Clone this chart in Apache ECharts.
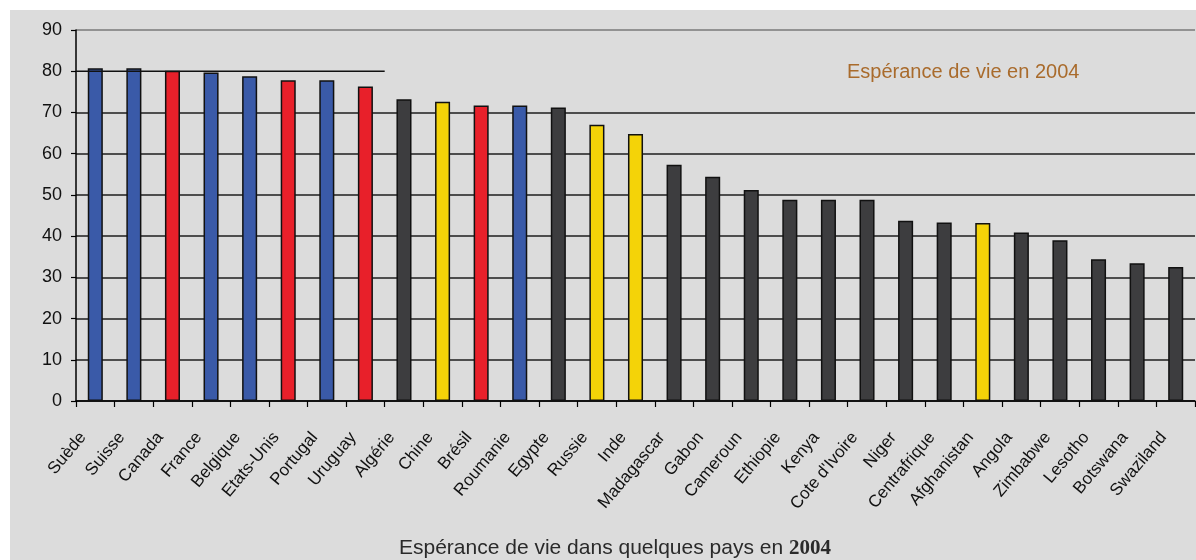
<!DOCTYPE html>
<html>
<head>
<meta charset="utf-8">
<script src="https://cdn.jsdelivr.net/npm/echarts@6/dist/echarts.min.js"></script>
<style>
  html, body { margin: 0; padding: 0; background: #ffffff; }
  #wrap { position: relative; width: 1196px; height: 560px; }
  #panel { position: absolute; left: 10px; top: 10px; right: 0; bottom: 0; background: #dcdcdc; }
  #chart { position: absolute; left: 0; top: 0; width: 1196px; height: 560px; }
</style>
</head>
<body>
<div id="wrap">
  <div id="panel"></div>
  <div id="chart"></div>
</div>
<script>
// Life expectancy (years) by country, 2004
const countries = ['Suède', 'Suisse', 'Canada', 'France', 'Belgique', 'Etats-Unis', 'Portugal', 'Uruguay',
  'Algérie', 'Chine', 'Brésil', 'Roumanie', 'Egypte', 'Russie', 'Inde', 'Madagascar', 'Gabon', 'Cameroun',
  'Ethiopie', 'Kenya', "Cote d'Ivoire", 'Niger', 'Centrafrique', 'Afghanistan', 'Angola', 'Zimbabwe',
  'Lesotho', 'Botswana', 'Swaziland'];
const lifeExpectancy = [80.7, 80.7, 80.1, 79.7, 78.8, 77.8, 77.8, 76.3,
  73.2, 72.6, 71.7, 71.7, 71.2, 67.0, 64.8, 57.3, 54.4, 51.2,
  48.8, 48.8, 48.8, 43.7, 43.3, 43.2, 40.9, 39.0,
  34.4, 33.4, 32.5];
// colour group of each bar: b = blue, r = red, y = yellow, d = dark grey
const groups = ['b', 'b', 'r', 'b', 'b', 'r', 'b', 'r',
  'd', 'y', 'r', 'b', 'd', 'y', 'y', 'd', 'd', 'd',
  'd', 'd', 'd', 'd', 'd', 'y', 'd', 'd',
  'd', 'd', 'd'];
const yTicks = [0, 10, 20, 30, 40, 50, 60, 70, 80, 90];
// horizontal reference at 80 years, spanning the first eight countries
const refValue = 80;
const refSpan = 8;

const palette = { b: '#3a5aa8', r: '#e8202a', y: '#f4d308', d: '#3d3d3f' };
const FONT = "'Liberation Sans', Arial, sans-serif";

// grid line colours, one per tick (0..90); the 80 line is drawn separately
const splitColors = yTicks.map(v => v === 90 ? '#7a7a7a' : (v === refValue ? 'rgba(0,0,0,0)' : '#1e1e1e'));

const chart = echarts.init(document.getElementById('chart'));
chart.setOption({
  backgroundColor: 'transparent',
  animation: false,
  textStyle: { fontFamily: FONT },
  title: [
    {
      text: 'Espérance de vie en 2004',
      left: 842, top: 57,
      textStyle: { color: '#a96b2c', fontSize: 20, fontWeight: 'normal', fontFamily: FONT }
    },
    {
      text: '{n|Espérance de vie dans quelques pays en }{b|2004}',
      left: 394, top: 533,
      textStyle: {
        fontWeight: 'normal',
        rich: {
          n: { color: '#2a2a2a', fontSize: 21, fontWeight: 'normal', fontFamily: FONT },
          b: { color: '#2a2a2a', fontSize: 21, fontWeight: 'bold', fontFamily: "'Liberation Serif', 'Times New Roman', serif" }
        }
      }
    }
  ],
  grid: { left: 76, right: 1, top: 30, bottom: 159, containLabel: false },
  xAxis: [
    {
      type: 'category',
      data: countries,
      axisLine: { lineStyle: { color: '#000', width: 1.5 } },
      axisTick: { show: true, alignWithLabel: false, length: 6, lineStyle: { color: '#000', width: 1.2 } },
      axisLabel: { interval: 0, rotate: 50, margin: 19, padding: [0, 19, 0, 0], color: '#111', fontSize: 17, fontFamily: FONT },
      splitLine: { show: false }
    },
    { type: 'value', min: 0, max: countries.length, show: false }
  ],
  yAxis: {
    type: 'value',
    min: yTicks[0], max: yTicks[yTicks.length - 1], interval: 10,
    axisLine: { show: true, lineStyle: { color: '#000', width: 1.5 } },
    axisTick: { show: true, length: 5, lineStyle: { color: '#000', width: 1.2 } },
    axisLabel: { color: '#111', fontSize: 18, margin: 14, fontFamily: FONT },
    splitLine: { show: true, lineStyle: { color: splitColors, width: 1.5 } }
  },
  series: [
    {
      type: 'bar',
      barWidth: '39%',
      data: lifeExpectancy.map((v, i) => ({
        value: v,
        itemStyle: { color: palette[groups[i]], borderColor: '#111', borderWidth: 1.5 }
      }))
    },
    {
      type: 'line',
      xAxisIndex: 1,
      symbol: 'none',
      silent: true,
      lineStyle: { color: '#111', width: 1.5 },
      data: [[0, refValue], [refSpan, refValue]],
      z: 3
    }
  ]
});
</script>
</body>
</html>
